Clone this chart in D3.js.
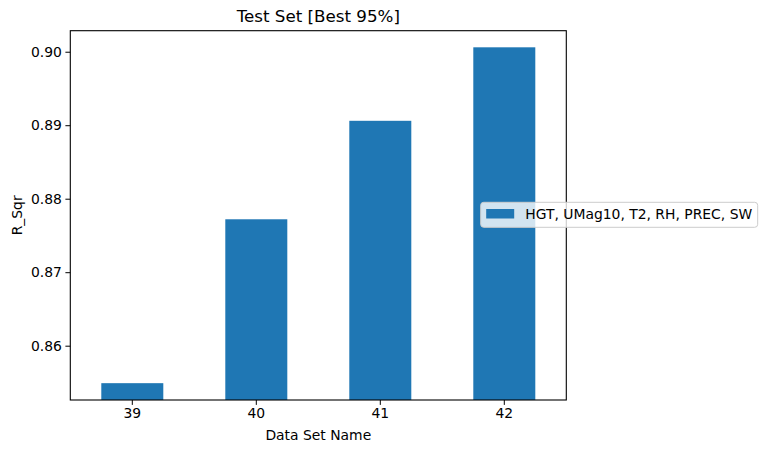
<!DOCTYPE html>
<html>
<head>
<meta charset="utf-8">
<script src="https://cdn.jsdelivr.net/npm/d3@7"></script>
<style>
  body { margin: 0; background: #fff; }
  text { font-family: "DejaVu Sans", sans-serif; fill: #000; }
</style>
</head>
<body>
<div id="chart"></div>
<script>
// chart data
var categories = ['39', '40', '41', '42'];
var rsqr = [0.8549, 0.8772, 0.8906, 0.9006];
var yTicks = [0.86, 0.87, 0.88, 0.89, 0.90];
var seriesName = 'HGT, UMag10, T2, RH, PREC, SW';

var svgWidth = 767;
var svgHeight = 453;
var margins = { top: 30.7, left: 70.3, right: 200.7, bottom: 53 };
var width = svgWidth - margins.left - margins.right;
var height = svgHeight - margins.top - margins.bottom;

var svg = d3.select('#chart').append('svg')
  .attr('width', svgWidth).attr('height', svgHeight);
var chart = svg.append('g')
  .attr('transform', `translate(${margins.left}, ${margins.top})`);

var x = d3.scaleBand().domain(categories).range([0, width])
  .paddingInner(0.5).paddingOuter(0.25);
var y = d3.scaleLinear().domain([0.85261, 0.90286]).range([height, 0]);

// bars
chart.selectAll('rect.bar')
  .data(rsqr)
  .enter()
  .append('rect')
  .attr('class', 'bar')
  .attr('x', (d, i) => x(categories[i]))
  .attr('width', x.bandwidth())
  .attr('y', d => y(d))
  .attr('height', d => height - y(d))
  .attr('fill', '#1f77b4');

// axes
var bottomAxis = d3.axisBottom(x).tickSize(4.9).tickPadding(3.5);
var leftAxis = d3.axisLeft(y).tickValues(yTicks).tickFormat(d3.format('.2f')).tickSize(4.9).tickPadding(3.5);

var gx = chart.append('g').attr('transform', `translate(0, ${height})`).call(bottomAxis);
var gy = chart.append('g').call(leftAxis);
[gx, gy].forEach(function(g) {
  g.select('.domain').remove();
  g.selectAll('line').attr('stroke', '#000').attr('stroke-width', 1);
  g.selectAll('text').attr('font-size', '13.9px').attr('fill', '#000')
    .style('font-family', '"DejaVu Sans", sans-serif');
});

// frame
chart.append('rect')
  .attr('width', width).attr('height', height)
  .attr('fill', 'none').attr('stroke', '#000').attr('stroke-width', 1.1);

// title and labels
svg.append('text')
  .attr('x', margins.left + width / 2).attr('y', 22)
  .attr('text-anchor', 'middle').attr('font-size', '16.7px')
  .text('Test Set [Best 95%]');

svg.append('text')
  .attr('x', margins.left + width / 2).attr('y', 440)
  .attr('text-anchor', 'middle').attr('font-size', '13.9px')
  .text('Data Set Name');

svg.append('text')
  .attr('transform', `translate(22, ${margins.top + height / 2}) rotate(-90)`)
  .attr('text-anchor', 'middle').attr('font-size', '13.9px')
  .text('R_Sqr');

// legend
var legend = svg.append('g').attr('transform', 'translate(480.7, 202.3)');
legend.append('rect')
  .attr('width', 277).attr('height', 25).attr('rx', 3)
  .attr('fill', 'rgba(255,255,255,0.8)').attr('stroke', '#ccc').attr('stroke-width', 1);
legend.append('rect')
  .attr('x', 5.5).attr('y', 6.7).attr('width', 28).attr('height', 9.5)
  .attr('fill', '#1f77b4');
legend.append('text')
  .attr('x', 44.5).attr('y', 17).attr('font-size', '13.9px')
  .text(seriesName);
</script>
</body>
</html>
